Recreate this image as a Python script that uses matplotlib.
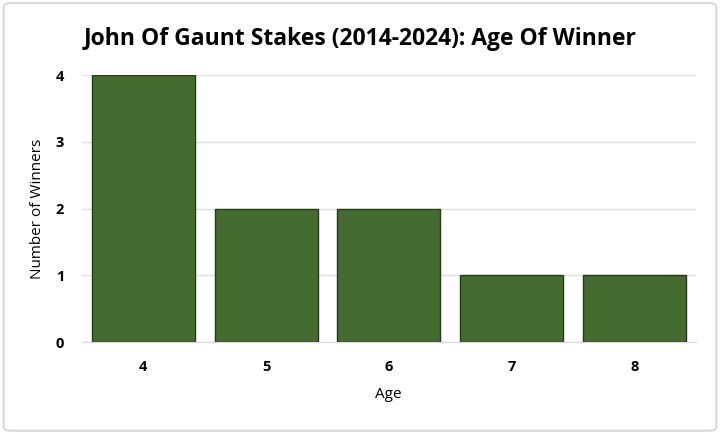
import matplotlib
matplotlib.use("Agg")
import matplotlib.pyplot as plt
from matplotlib.patches import FancyBboxPatch

# Age of winner data
ages = ["4", "5", "6", "7", "8"]
winners = [4, 2, 2, 1, 1]

plt.rcParams['font.family'] = ['Open Sans', 'DejaVu Sans']

fig = plt.figure(figsize=(7.2, 4.32), dpi=100)
ax = fig.add_axes([0.114, 0.208, 0.852, 0.618])

# light rounded frame around the whole chart
frame = FancyBboxPatch((0.005, 0.003), 0.99, 0.99, boxstyle="round,pad=0,rounding_size=0.01",
                       transform=fig.transFigure, facecolor='none', edgecolor='#d9d9d9',
                       linewidth=1.5, zorder=0)
fig.patches.append(frame)

x = range(len(ages))
ax.bar(x, winners, width=0.84, color='#466b30', edgecolor='#263a1a', linewidth=1.0, zorder=3)

ax.set_xlim(-0.5, 4.5)
ax.set_ylim(0, 4)
ax.set_yticks([0, 1, 2, 3, 4])
ax.set_xticks(list(x))
ax.set_xticklabels(ages)

ax.grid(axis='y', color='#e0e0e0', linewidth=1.0, zorder=0)
ax.set_axisbelow(True)
for s in ['top', 'right', 'left']:
    ax.spines[s].set_visible(False)
ax.spines['bottom'].set_color('#d9d9d9')
ax.tick_params(axis='x', length=0, labelsize=10.5, pad=13)
ax.tick_params(axis='y', length=0, labelsize=10.5, pad=13)
for lbl in ax.get_xticklabels() + ax.get_yticklabels():
    lbl.set_fontweight('bold')

ax.set_xlabel('Age', fontsize=11, labelpad=9)
ax.set_ylabel('Number of Winners', fontsize=11, labelpad=8)
fig.text(0.5, 0.91, 'John Of Gaunt Stakes (2014-2024): Age Of Winner',
         ha='center', va='center', fontsize=16.5, fontweight='bold')

fig.savefig('out.png', dpi=100)
